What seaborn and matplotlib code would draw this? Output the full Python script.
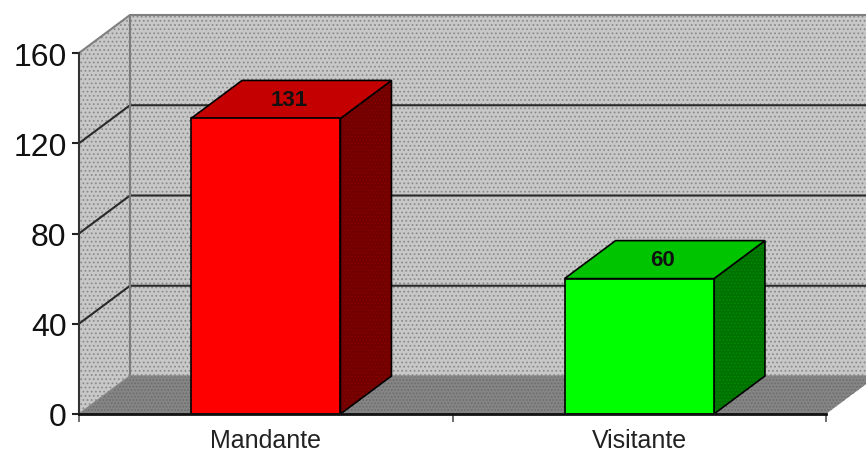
import pandas as pd
import seaborn as sns
import matplotlib.pyplot as plt
from matplotlib.patches import Polygon

categories = ['Mandante', 'Visitante']
values = [131, 60]
y_ticks = [0, 40, 80, 120, 160]

front_colors = ['#ff0000', '#00ff00']
top_colors = ['#c40000', '#00c400']
side_colors = ['#700000', '#007000']
side_dots = ['#8c0000', '#008c00']

W, H = 866, 452
# plot area in pixels
left, right, bottom, top = 79, 826, 415, 54
depth_px = (51, 38)

sns.set_theme(style='white')
plt.rcParams['font.family'] = ['Liberation Sans', 'DejaVu Sans']
plt.rcParams['hatch.linewidth'] = 0.8

df = pd.DataFrame({'place': categories, 'n': values})

fig = plt.figure(figsize=(W / 100, H / 100), dpi=100)
ax = fig.add_axes([left / W, 1 - bottom / H, (right - left) / W, (bottom - top) / H])

palette = dict(zip(categories, front_colors))
sns.barplot(data=df, x='place', y='n', hue='place', palette=palette, width=0.4, saturation=1,
            edgecolor='black', linewidth=1.2, legend=False, ax=ax, zorder=5)
ax.set_xlim(-0.5, 1.5)
ax.set_ylim(y_ticks[0], y_ticks[-1])

# depth of the fake 3d box in data units
dx = depth_px[0] / (right - left) * 2
dy = depth_px[1] / (bottom - top) * y_ticks[-1]
x0, x1 = ax.get_xlim()
ymax = y_ticks[-1]


def poly(pts, face, hatch=None, hatch_col='#8c8c8c', z=1):
    ax.add_patch(Polygon(pts, closed=True, facecolor=face, edgecolor=hatch_col if hatch else 'none',
                         hatch=hatch, linewidth=0, clip_on=False, zorder=z))


# walls and floor
poly([(x0 + dx, dy), (x1 + dx, dy), (x1 + dx, ymax + dy), (x0 + dx, ymax + dy)], '#c8c8c8', '....')
poly([(x0, 0), (x0 + dx, dy), (x0 + dx, ymax + dy), (x0, ymax)], '#c8c8c8', '....')
poly([(x0, 0), (x1, 0), (x1 + dx, dy), (x0 + dx, dy)], '#858585', '.....', '#6c6c6c')

# grid lines
for t in y_ticks[1:-1]:
    ax.plot([x0, x0 + dx, x1 + dx], [t, t + dy, t + dy], color='#2a2a2a', lw=1.5, clip_on=False, zorder=2)
ax.plot([x0 + dx, x0 + dx], [dy, ymax + dy], color='#7c7c7c', lw=1.5, clip_on=False, zorder=2)
ax.plot([x0, x0 + dx, x1 + dx], [ymax, ymax + dy, ymax + dy], color='#808080', lw=1.5, clip_on=False, zorder=2)
ax.plot([x0, x0 + dx, x1 + dx], [0, dy, dy], color='#858585', lw=1, clip_on=False, zorder=2)

# top and side of each bar, built from the bars seaborn drew
for bar, val, c_top, c_side, c_dot in zip(ax.patches[:len(values)], values, top_colors, side_colors, side_dots):
    a, b = bar.get_x(), bar.get_x() + bar.get_width()
    poly([(b, 0), (b + dx, dy), (b + dx, val + dy), (b, val)], c_side, '.....', c_dot, z=4)
    ax.add_patch(Polygon([(b, 0), (b + dx, dy), (b + dx, val + dy), (b, val)], closed=True,
                         fill=False, edgecolor='black', lw=1.2, clip_on=False, zorder=4))
    ax.add_patch(Polygon([(a, val), (b, val), (b + dx, val + dy), (a + dx, val + dy)], closed=True,
                         facecolor=c_top, edgecolor='black', lw=1.2, clip_on=False, zorder=4))
    ax.text((a + b) / 2 + 0.45 * dx, val + dy / 2, str(val), ha='center', va='center',
            fontsize=16, fontweight='bold', color='#111111', zorder=6)

# axes
sns.despine(ax=ax, top=True, right=True)
ax.spines['left'].set_color('#333333')
ax.spines['left'].set_linewidth(1.5)
ax.spines['bottom'].set_color('#111111')
ax.spines['bottom'].set_linewidth(2)
ax.spines['left'].set_zorder(7)
ax.spines['bottom'].set_zorder(7)

ax.set_xlabel('')
ax.set_ylabel('')
ax.set_yticks(y_ticks)
ax.set_yticklabels([str(t) for t in y_ticks], fontsize=23, color='#111111', va='center_baseline')
ax.tick_params(axis='y', left=True, length=5, width=1.5, color='#222222', pad=4)
ax.set_xticks([0, 1])
ax.set_xticklabels(categories, fontsize=18, color='#222222')
ax.tick_params(axis='x', bottom=False, pad=4)
ax.set_xticks([-0.5, 0.5, 1.5], minor=True)
ax.tick_params(axis='x', which='minor', bottom=True, length=6, width=1.2, color='#555555')

fig.savefig('out.png', dpi=100)
